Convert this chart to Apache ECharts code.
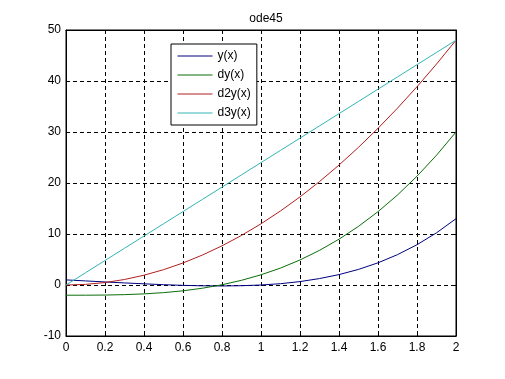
<!DOCTYPE html>
<html>
<head>
<meta charset="utf-8">
<script src="https://cdn.jsdelivr.net/npm/echarts@6/dist/echarts.min.js"></script>
<style>html,body{margin:0;padding:0;background:#fff}#c{width:505px;height:379px}</style>
</head>
<body>
<div id="c"></div>
<script>
var titleText = 'ode45';
var seriesNames = ['y(x)', 'dy(x)', 'd2y(x)', 'd3y(x)'];
var xValues = [0, 0.1, 0.2, 0.3, 0.4, 0.5, 0.6, 0.7, 0.8, 0.9, 1.0, 1.1, 1.2, 1.3, 1.4, 1.5, 1.6, 1.7, 1.8, 1.9, 2.0];
var yValues = [1.00, 0.80, 0.60, 0.41, 0.23, 0.06, -0.07, -0.16, -0.19, -0.14, 0.00, 0.26, 0.67, 1.26, 2.04, 3.06, 4.35, 5.95, 7.90, 10.23, 13.00];
var dyValues = [-2.00, -2.00, -1.97, -1.89, -1.74, -1.50, -1.14, -0.63, 0.05, 0.92, 2.00, 3.32, 4.91, 6.79, 8.98, 11.50, 14.38, 17.65, 21.33, 25.44, 30.00];
var d2yValues = [0.00, 0.12, 0.48, 1.08, 1.92, 3.00, 4.32, 5.88, 7.68, 9.72, 12.00, 14.52, 17.28, 20.28, 23.52, 27.00, 30.72, 34.68, 38.88, 43.32, 48.00];
var d3yValues = [0.0, 2.4, 4.8, 7.2, 9.6, 12.0, 14.4, 16.8, 19.2, 21.6, 24.0, 26.4, 28.8, 31.2, 33.6, 36.0, 38.4, 40.8, 43.2, 45.6, 48.0];
var colors = ['#00007f', '#0a6e0a', '#b21e1e', '#34b4b4'];

function zip(xs, ys) { return xs.map(function (x, i) { return [x, ys[i]]; }); }
var allValues = [yValues, dyValues, d2yValues, d3yValues];

var font = 'Liberation Sans, Arial, sans-serif';
var chart = echarts.init(document.getElementById('c'), null, {renderer: 'canvas'});
var dashed = {show: true, lineStyle: {color: '#000', type: [4, 3], width: 1}};
var tick = {show: true, inside: true, length: 4, lineStyle: {color: '#000'}};
var line = {show: true, onZero: false, lineStyle: {color: '#000'}};
chart.setOption({
  animation: false,
  backgroundColor: '#fff',
  title: {text: titleText, left: 261, top: 8, textAlign: 'center',
    textStyle: {fontSize: 12, fontWeight: 'normal', color: '#000', fontFamily: font}},
  grid: {left: 66, right: 49, top: 30, bottom: 43, show: true, borderColor: '#000', borderWidth: 1},
  legend: {
    data: seriesNames, orient: 'vertical', left: 171, top: 44,
    backgroundColor: '#fff', borderColor: '#000', borderWidth: 1, borderRadius: 0,
    padding: [6, 6, 6, 6], itemWidth: 35, itemHeight: 10, itemGap: 7,
    itemStyle: {opacity: 0},
    lineStyle: {width: 1},
    textStyle: {fontSize: 12, color: '#000', fontFamily: font}
  },
  xAxis: [{
    type: 'value', min: 0, max: 2, interval: 0.2,
    axisLine: line, axisTick: tick,
    axisLabel: {color: '#000', fontSize: 12, fontFamily: font, margin: 6},
    splitLine: dashed
  }, {
    type: 'value', min: 0, max: 2, interval: 0.2, position: 'top',
    axisLine: line, axisTick: tick,
    axisLabel: {show: false}, splitLine: {show: false}
  }],
  yAxis: [{
    type: 'value', min: -10, max: 50, interval: 10,
    axisLine: line, axisTick: tick,
    axisLabel: {color: '#000', fontSize: 12, fontFamily: font, margin: 5},
    splitLine: dashed
  }, {
    type: 'value', min: -10, max: 50, interval: 10, position: 'right',
    axisLine: line, axisTick: tick,
    axisLabel: {show: false}, splitLine: {show: false}
  }],
  series: seriesNames.map(function (name, i) {
    return {
      name: name, type: 'line', symbol: 'none', showSymbol: false,
      data: zip(xValues, allValues[i]),
      lineStyle: {color: colors[i], width: 1},
      itemStyle: {color: colors[i]},
      z: 3
    };
  })
});
</script>
</body>
</html>
